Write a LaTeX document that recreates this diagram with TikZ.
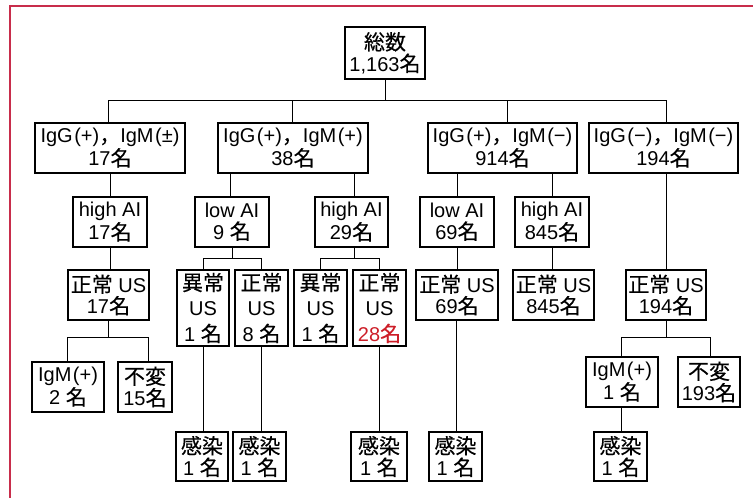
\documentclass[tikz,border=0pt]{standalone}
\usepackage{fontspec}
\setmainfont{Liberation Sans}
\newfontfamily\jpf{Noto Sans CJK JP}[FakeBold=0.4,Scale=1.05]
\newcommand\mei{{\jpf 名}}
\newcommand\cm{{\jpf ，}}
\definecolor{framered}{RGB}{200,45,75}
\definecolor{numred}{RGB}{205,30,40}
\begin{document}
\begin{tikzpicture}[x=1pt,y=-1pt,
  box/.style={draw, line width=1.1pt, align=center, inner sep=0pt,
    font=\fontsize{20}{21.5}\selectfont, minimum height=50pt},
  tall/.style={box, minimum height=76pt, font=\fontsize{20}{25.5}\selectfont},
  link/.style={line width=0.9pt}]
\useasboundingbox (0,0) rectangle (753,498);
\draw[framered, line width=2pt] (10,498) -- (10,6) -- (753,6);

% level 0
\node[box, minimum width=80pt, minimum height=52pt] (root) at (385,53) {{\jpf 総数}\\1,163\mei};
% level 1
\node[box, minimum width=150pt] (A) at (110,148) {IgG\kern1.5pt(+)\cm IgM\kern1.5pt(±)\\17\mei};
\node[box, minimum width=150pt] (B) at (293,148) {IgG\kern1.5pt(+)\cm IgM\kern1.5pt(+)\\38\mei};
\node[box, minimum width=149pt] (C) at (502.5,148) {IgG\kern1.5pt(+)\cm IgM\kern1.5pt(−)\\914\mei};
\node[box, minimum width=149pt] (D) at (663.5,148) {IgG\kern1.5pt(−)\cm IgM\kern1.5pt(−)\\194\mei};
% level 2
\node[box, minimum width=74pt] (A1) at (110,222) {high AI\\17\mei};
\node[box, minimum width=74pt] (B1) at (232,222) {low AI\\9 \mei};
\node[box, minimum width=73pt] (B2) at (351.5,222) {high AI\\29\mei};
\node[box, minimum width=74pt] (C1) at (457,222) {low AI\\69\mei};
\node[box, minimum width=74pt] (C2) at (552,222) {high AI\\845\mei};
% level 3
\node[box, minimum width=81pt] (A2) at (108.5,295) {{\jpf 正常} US\\17\mei};
\node[tall, minimum width=52pt] (B1a) at (203,308) {{\jpf 異常}\\US\\1 \mei};
\node[tall, minimum width=53pt] (B1b) at (261.5,308) {{\jpf 正常}\\US\\8 \mei};
\node[tall, minimum width=53pt] (B2a) at (320.5,308) {{\jpf 異常}\\US\\1 \mei};
\node[tall, minimum width=53pt] (B2b) at (379.5,308) {{\jpf 正常}\\US\\\textcolor{numred}{28\mei}};
\node[box, minimum width=82pt] (C1a) at (457,295) {{\jpf 正常} US\\69\mei};
\node[box, minimum width=81pt] (C2a) at (553.5,295) {{\jpf 正常} US\\845\mei};
\node[box, minimum width=80pt] (D1) at (666,295) {{\jpf 正常} US\\194\mei};
% level 4
\node[box, minimum width=72pt] (A2a) at (68,387) {IgM\kern1.5pt(+)\\2 \mei};
\node[box, minimum width=54pt] (A2b) at (145,387) {{\jpf 不変}\\15\mei};
\node[box, minimum width=72pt] (D1a) at (622,382) {IgM\kern1.5pt(+)\\1 \mei};
\node[box, minimum width=62pt] (D1b) at (709,382) {{\jpf 不変}\\193\mei};
% level 5
\node[box, minimum width=52pt, minimum height=49pt] (I1) at (202,456.5) {{\jpf 感染}\\1 \mei};
\node[box, minimum width=53pt, minimum height=49pt] (I2) at (259.5,456.5) {{\jpf 感染}\\1 \mei};
\node[box, minimum width=56pt, minimum height=49pt] (I3) at (379,456.5) {{\jpf 感染}\\1 \mei};
\node[box, minimum width=53pt, minimum height=49pt] (I4) at (455.5,456.5) {{\jpf 感染}\\1 \mei};
\node[box, minimum width=53pt, minimum height=49pt] (I5) at (620.5,456.5) {{\jpf 感染}\\1 \mei};

% connectors
\draw[link] (root.south) -- ++(0,21) coordinate (bus0);
\draw[link] ([xshift=-2pt]A.north) |- (bus0);
\draw[link] ([xshift=-1pt]B.north) |- (bus0);
\draw[link] ([xshift=4.5pt]C.north) |- (bus0);
\draw[link] ([xshift=2.5pt]D.north) |- (bus0);

\draw[link] (A.south) -- (A1.north);
\draw[link] ([xshift=-2pt]B1.north) -- ([xshift=-2pt]B1.north |- B.south);
\draw[link] ([xshift=2.5pt]B2.north) -- ([xshift=2.5pt]B2.north |- B.south);
\draw[link] (C1.north) -- (C1.north |- C.south);
\draw[link] (C2.north) -- (C2.north |- C.south);
\draw[link] (D1.north) -- (D1.north |- D.south);

\draw[link] (A1.south) -- (A1.south |- A2.north);
\draw[link] (C1.south) -- (C1a.north);
\draw[link] (C2.south) -- (C2.south |- C2a.north);

\draw[link] (B1.south) -- ++(0,11) coordinate (bus1);
\draw[link] (B1a.north) |- (bus1) -| (B1b.north);
\draw[link] ([xshift=2.5pt]B2.south) -- ++(0,11) coordinate (bus2);
\draw[link] (B2a.north) |- (bus2) -| (B2b.north);

\draw[link] (A2.south) -- ++(0,17) coordinate (bus3);
\draw[link] ([xshift=-1pt]A2a.north) |- (bus3) -| ([xshift=3pt]A2b.north);
\draw[link] (D1.south) -- ++(0,17) coordinate (bus4);
\draw[link] ([xshift=-1pt]D1a.north) |- (bus4) -| ([xshift=1pt]D1b.north);

\draw[link] (B1a.south) -- (B1a.south |- I1.north);
\draw[link] (B1b.south) -- (B1b.south |- I2.north);
\draw[link] (B2b.south) -- (B2b.south |- I3.north);
\draw[link] ([xshift=-1pt]C1a.south) -- ([xshift=-1pt]C1a.south |- I4.north);
\draw[link] ([xshift=-1pt]D1a.south) -- ([xshift=-1pt]D1a.south |- I5.north);
\end{tikzpicture}
\end{document}
